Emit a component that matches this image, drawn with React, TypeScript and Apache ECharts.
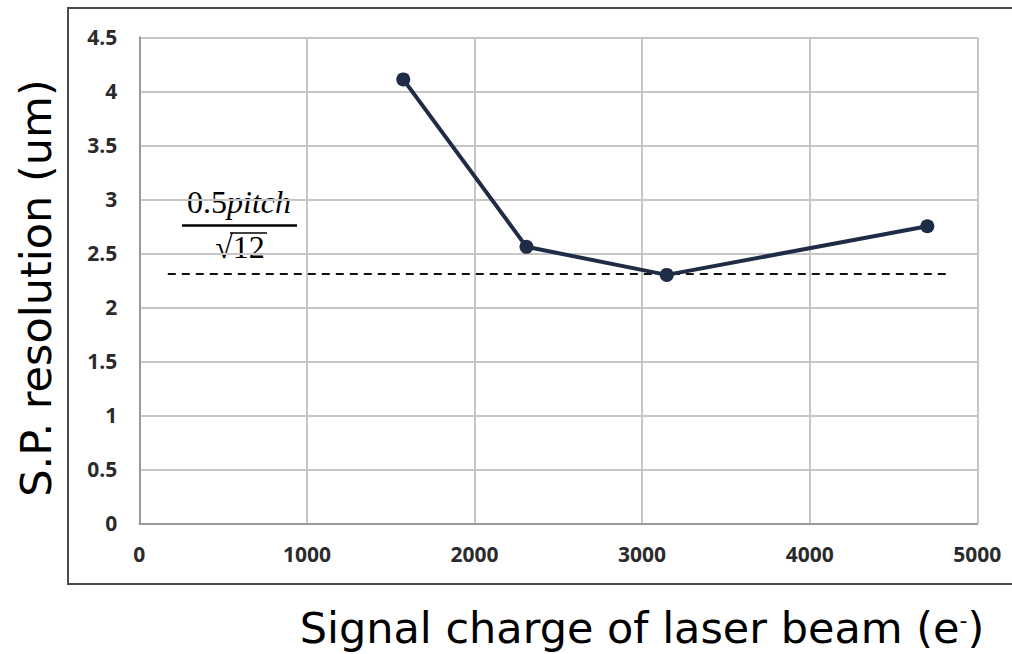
import React, { useEffect, useRef } from "react";
import * as echarts from "echarts";

const signalCharge = [1575, 2310, 3147, 4702];
const spResolution = [4.11, 2.56, 2.3, 2.75];
const xRange = [0, 5000];
const xStep = 1000;
const yRange = [0, 4.5];
const yStep = 0.5;
const limitValue = 2.31;
const limitFrom = 170;
const limitTo = 4835;
const yTitle = "S.P. resolution (um)";
const xTitle = "Signal charge of laser beam (e";

export default function App() {
  const ref = useRef<HTMLDivElement>(null);
  useEffect(() => {
    const chart = echarts.init(ref.current!, null, { renderer: "svg" });
    const tickLabel = {
      color: "#2b2b2b",
      fontFamily: "Open Sans",
      fontWeight: "bold" as const,
      fontSize: 21,
      formatter: (v: number) => String(v),
    };
    chart.setOption({
      animation: false,
      backgroundColor: "#ffffff",
      grid: { left: 139.3, right: 34.7, top: 37.3, bottom: 130.7 },
      xAxis: {
        type: "value",
        min: xRange[0],
        max: xRange[1],
        interval: xStep,
        axisLine: { show: true, lineStyle: { color: "#9a9a9a", width: 2 } },
        axisTick: { show: false },
        splitLine: { show: true, lineStyle: { color: "#c6c6c6", width: 2 } },
        axisLabel: { ...tickLabel, margin: 20 },
      },
      yAxis: {
        type: "value",
        min: yRange[0],
        max: yRange[1],
        interval: yStep,
        axisLine: { show: true, lineStyle: { color: "#9a9a9a", width: 2 } },
        axisTick: { show: false },
        splitLine: { show: true, lineStyle: { color: "#c6c6c6", width: 2 } },
        axisLabel: { ...tickLabel, margin: 22 },
      },
      series: [
        {
          type: "line",
          data: signalCharge.map((x, i) => [x, spResolution[i]]),
          symbol: "circle",
          symbolSize: 14,
          itemStyle: { color: "#1e2d45" },
          lineStyle: { color: "#1e2d45", width: 4 },
          z: 5,
          markLine: {
            silent: true,
            symbol: "none",
            label: { show: false },
            lineStyle: { color: "#111111", width: 2, type: [8, 6] },
            data: [[{ coord: [limitFrom, limitValue] }, { coord: [limitTo, limitValue] }]],
          },
        },
      ],
      graphic: [
        {
          type: "rect",
          shape: { x: 68, y: 8, width: 1000, height: 576 },
          style: { fill: "none", stroke: "#4a4a4a", lineWidth: 2 },
          z: -1,
        },
        {
          type: "text",
          x: 36,
          y: 288,
          rotation: Math.PI / 2,
          style: {
            text: yTitle,
            fontFamily: "DejaVu Sans",
            fontSize: 43,
            fill: "#000",
            align: "center",
            verticalAlign: "middle",
          },
        },
        {
          type: "text",
          x: 642,
          y: 628,
          style: {
            text: xTitle + "{s|-})",
            fontFamily: "DejaVu Sans",
            fontSize: 43,
            lineHeight: 40,
            fill: "#000",
            align: "center",
            verticalAlign: "middle",
            rich: {
              s: { fontFamily: "DejaVu Sans", fontSize: 22, lineHeight: 22, fill: "#000", padding: [0, 0, 16, 0] },
            },
          },
        },
        {
          type: "text",
          x: 239,
          y: 202,
          style: {
            text: "0.5{i|pitch}",
            fontFamily: "Liberation Serif",
            fontSize: 32,
            fill: "#000",
            align: "center",
            verticalAlign: "middle",
            rich: {
              i: { fontFamily: "Liberation Serif", fontStyle: "italic", fontSize: 32, fill: "#000" },
            },
          },
        },
        {
          type: "line",
          shape: { x1: 182, y1: 225.5, x2: 297, y2: 225.5 },
          style: { stroke: "#000", lineWidth: 2.5 },
        },
        {
          type: "text",
          x: 240,
          y: 247,
          style: {
            text: "√12",
            fontFamily: "Liberation Serif",
            fontSize: 32,
            fill: "#000",
            align: "center",
            verticalAlign: "middle",
          },
        },
        {
          type: "line",
          shape: { x1: 230, y1: 233, x2: 267, y2: 233 },
          style: { stroke: "#000", lineWidth: 1.5 },
        },
      ],
    });
    return () => chart.dispose();
  }, []);
  return (
    <div
      ref={ref}
      style={{ position: "fixed", left: 0, top: 0, width: 1012, height: 654 }}
    />
  );
}
